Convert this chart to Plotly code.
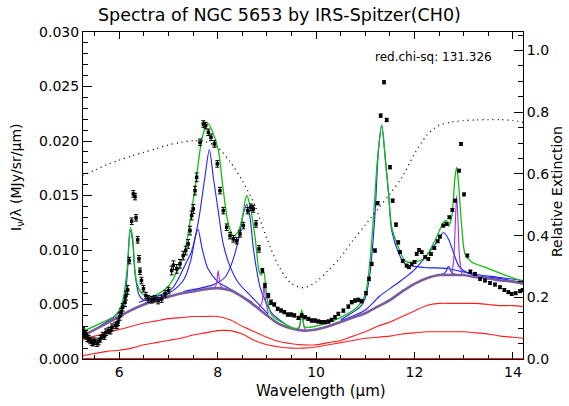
import plotly.graph_objects as go

# ---------------- observed spectrum ----------------
wave = [5.262, 5.276, 5.30, 5.323, 5.35, 5.378, 5.41, 5.445, 5.47, 5.499,
        5.547, 5.58, 5.615, 5.662, 5.70, 5.730, 5.784, 5.82, 5.852, 5.920,
        5.95, 5.974, 6.008, 6.041, 6.069, 6.116, 6.136, 6.17, 6.203, 6.25,
        6.285, 6.32, 6.34, 6.373, 6.40, 6.42, 6.45, 6.49, 6.54, 6.59,
        6.66, 6.72, 6.79, 6.86, 6.93, 7.0, 7.065, 7.1, 7.167, 7.234,
        7.30, 7.35, 7.40, 7.437, 7.47, 7.504, 7.538, 7.572, 7.64, 7.708,
        7.755, 7.81, 7.863, 7.931, 7.992, 8.046, 8.114, 8.182, 8.25, 8.317,
        8.385, 8.453, 8.521, 8.609, 8.676, 8.724, 8.778, 8.839, 8.907, 8.96,
        9.029, 9.083, 9.15, 9.218, 9.286, 9.354, 9.422, 9.49, 9.557, 9.64,
        9.707, 9.774, 9.842, 9.91, 9.978, 10.045, 10.113, 10.18, 10.25, 10.316,
        10.384, 10.452, 10.554, 10.655, 10.723, 10.79, 10.858, 10.926, 11.014, 11.075,
        11.13, 11.197, 11.251, 11.312, 11.38, 11.434, 11.502, 11.556, 11.624, 11.67,
        11.705, 11.76, 11.84, 11.888, 11.943, 12.0, 12.044, 12.092, 12.146, 12.214,
        12.281, 12.335, 12.403, 12.471, 12.518, 12.586, 12.654, 12.708, 12.769, 12.823,
        12.905, 12.945, 13.006, 13.074, 13.135, 13.23, 13.332, 13.433, 13.535, 13.636,
        13.738, 13.826, 13.907, 13.975, 14.056, 14.144, 14.2]
flux = [0.0026, 0.00246, 0.0022, 0.00231, 0.0019, 0.00185, 0.0017, 0.00154, 0.0015, 0.00163,
        0.00145, 0.0016, 0.00185, 0.00215, 0.0021, 0.00246, 0.00261, 0.0026, 0.00292, 0.00307,
        0.0031, 0.00338, 0.0039, 0.00429, 0.00475, 0.00521, 0.00582, 0.00634, 0.00903, 0.01264,
        0.01515, 0.0149, 0.01295, 0.01093, 0.00919, 0.00805, 0.0072, 0.00644, 0.00582, 0.00552,
        0.00543, 0.00552, 0.00536, 0.0055, 0.00598, 0.00628, 0.00812, 0.0086, 0.00827, 0.00873,
        0.00949, 0.00995, 0.01056, 0.01178, 0.01316, 0.01377, 0.01545, 0.01667, 0.01988, 0.02156,
        0.02141, 0.0208, 0.02034, 0.01973, 0.0179, 0.01545, 0.01361, 0.01209, 0.01132, 0.01102,
        0.01086, 0.01148, 0.01224, 0.01361, 0.01392, 0.01377, 0.01239, 0.0101, 0.00811, 0.00674,
        0.00582, 0.00521, 0.0050, 0.0046, 0.00445, 0.0043, 0.00408, 0.00408, 0.0040, 0.00377,
        0.00399, 0.00383, 0.00368, 0.00353, 0.00353, 0.00344, 0.00338, 0.00338, 0.00344, 0.00359,
        0.00383, 0.00414, 0.00444, 0.00481, 0.00521, 0.00536, 0.00543, 0.0053, 0.00604, 0.00735,
        0.00872, 0.00995, 0.01429, 0.02233, 0.02539, 0.02193, 0.01759, 0.01453, 0.01233, 0.0107,
        0.0098, 0.0090, 0.00857, 0.00842, 0.00872, 0.0089, 0.00964, 0.01001, 0.0098, 0.00934,
        0.00918, 0.00964, 0.01019, 0.0108, 0.01123, 0.01224, 0.01239, 0.0130, 0.01368, 0.01453,
        0.01728, 0.01973, 0.0151, 0.00949, 0.00802, 0.00781, 0.00735, 0.0072, 0.00698, 0.00683,
        0.00658, 0.00634, 0.00613, 0.00597, 0.00603, 0.00622, 0.00634]
flux_err = [0.0003, 0.0003, 0.0003, 0.0003, 0.0003, 0.0003, 0.0003, 0.0003, 0.0003, 0.0003,
            0.0003, 0.0003, 0.0003, 0.0003, 0.0003, 0.0003, 0.0003, 0.0003, 0.0003, 0.0003,
            0.0003, 0.0003, 0.00035, 0.00035, 0.00035, 0.0004, 0.0004, 0.0004, 0.0003, 0.0003,
            0.0003, 0.0003, 0.0003, 0.0003, 0.0003, 0.0003, 0.0003, 0.0003, 0.0003, 0.0003,
            0.0003, 0.0003, 0.0003, 0.0003, 0.0003, 0.0003, 0.0004, 0.0004, 0.0004, 0.0004,
            0.0004, 0.0004, 0.0004, 0.0004, 0.0004, 0.0004, 0.0004, 0.0004, 0.0003, 0.0003,
            0.0003, 0.0003, 0.0003, 0.0003, 0.0003, 0.0003, 0.0003, 0.0003, 0.0003, 0.0003,
            0.0003, 0.0003, 0.0003, 0.0003, 0.0003, 0.0003, 0.0003, 0.0003, 0.0002, 0.0002,
            0.0002, 0.0002, 0.00015, 0.00015, 0.00015, 0.00015, 0.00015, 0.00015, 0.00015, 0.00015,
            0.00015, 0.00015, 0.00015, 0.00015, 0.00015, 0.00015, 0.00015, 0.00015, 0.00015, 0.00015,
            0.00015, 0.00015, 0.00015, 0.00015, 0.00015, 0.00015, 0.00015, 0.00015, 0.00015, 0.00015,
            0.00015, 0.00015, 0.00015, 0.00015, 0.00015, 0.00015, 0.00015, 0.00015, 0.00015, 0.00015,
            0.00013, 0.00013, 0.00013, 0.00013, 0.00013, 0.00013, 0.00013, 0.00013, 0.00013, 0.00013,
            0.00013, 0.00013, 0.00013, 0.00013, 0.00013, 0.00013, 0.00013, 0.00013, 0.00013, 0.00013,
            0.00013, 0.00013, 0.00013, 0.00013, 0.00013, 0.00013, 0.00013, 0.00013, 0.00013, 0.00013,
            0.00013, 0.00013, 0.00013, 0.00013, 0.00013, 0.00013, 0.00013]

# ---------------- continuum components (common grid) ----------------
grid = [5.25, 5.5, 5.75, 6.0, 6.25, 6.5, 6.75, 7.0, 7.25, 7.5, 7.75, 8.0, 8.25,
        8.5, 8.75, 9.0, 9.25, 9.5, 9.75, 10.0, 10.25, 10.5, 10.75, 11.0, 11.25,
        11.5, 11.75, 12.0, 12.25, 12.5, 12.75, 13.0, 13.25, 13.5, 13.75, 14.0, 14.22]
cont_total = [0.0021, 0.0027, 0.0033, 0.0039, 0.0045, 0.0050, 0.0054, 0.0057, 0.0060,
              0.0062, 0.0064, 0.0065, 0.0063, 0.0057, 0.0049, 0.0040, 0.0032, 0.0028,
              0.0026, 0.0027, 0.0030, 0.0034, 0.0038, 0.0042, 0.0048, 0.0054, 0.0062,
              0.0069, 0.0074, 0.0077, 0.0077, 0.0077, 0.0075, 0.0074, 0.0072, 0.0071, 0.0069]
cont_warm = [0.0017, 0.0021, 0.0024, 0.0027, 0.0030, 0.0033, 0.0035, 0.0037, 0.0038,
             0.0039, 0.0039, 0.0039, 0.0036, 0.0030, 0.0025, 0.0020, 0.0016, 0.0014,
             0.0013, 0.0013, 0.0015, 0.0017, 0.0021, 0.0025, 0.0030, 0.0034, 0.0039,
             0.0044, 0.0049, 0.0051, 0.0051, 0.0051, 0.0051, 0.0050, 0.0049, 0.0049, 0.0048]
cont_cool = [0.0003, 0.0005, 0.0007, 0.0008, 0.0010, 0.0013, 0.0015, 0.0017, 0.0019,
             0.0022, 0.0024, 0.0026, 0.0026, 0.0023, 0.0017, 0.0013, 0.0011, 0.0010,
             0.0010, 0.0011, 0.0013, 0.0015, 0.0017, 0.0019, 0.0020, 0.0021, 0.0023,
             0.0024, 0.0025, 0.0025, 0.0025, 0.0025, 0.0024, 0.0023, 0.0021, 0.0020, 0.0019]
cont_star = [0.0] * 37
extinction = [0.594, 0.612, 0.630, 0.645, 0.658, 0.670, 0.682, 0.694, 0.702, 0.708,
              0.705, 0.685, 0.640, 0.578, 0.500, 0.390, 0.298, 0.245, 0.231, 0.250,
              0.288, 0.330, 0.385, 0.435, 0.485, 0.535, 0.590, 0.665, 0.725, 0.758,
              0.768, 0.773, 0.775, 0.776, 0.776, 0.773, 0.767]

# ---------------- dust features (continuum + feature) ----------------
f62_wl = [5.6, 5.9, 6.05, 6.12, 6.17, 6.22, 6.27, 6.32, 6.4, 6.5, 6.7, 7.0]
f62_fx = [0.0030, 0.0039, 0.0046, 0.0058, 0.0083, 0.0118, 0.0108, 0.0078, 0.0059, 0.0054, 0.0055, 0.0058]
f76_wl = [6.5, 7.0, 7.3, 7.45, 7.55, 7.6, 7.68, 7.8, 8.0, 8.3, 8.7]
f76_fx = [0.0051, 0.0060, 0.0072, 0.0090, 0.0113, 0.0119, 0.0102, 0.0083, 0.0071, 0.0063, 0.0052]
f78_wl = [6.4, 6.9, 7.1, 7.335, 7.47, 7.61, 7.74, 7.83, 7.91, 8.01, 8.11, 8.25, 8.42, 8.69, 9.03]
f78_fx = [0.0052, 0.0060, 0.0066, 0.0086, 0.0099, 0.0127, 0.0167, 0.0192, 0.0167, 0.0136,
          0.0106, 0.0085, 0.0070, 0.0057, 0.0041]
f86_wl = [7.3, 7.9, 8.15, 8.28, 8.42, 8.52, 8.59, 8.656, 8.72, 8.79, 8.86, 8.96, 9.1, 9.37]
f86_fx = [0.0062, 0.0068, 0.0075, 0.0087, 0.0109, 0.0133, 0.0142, 0.0130, 0.0103, 0.0082,
          0.0066, 0.0054, 0.0042, 0.0032]
f113_wl = [10.5, 10.9, 11.0, 11.1, 11.2, 11.265, 11.333, 11.41, 11.475, 11.536, 11.67,
           11.81, 12.2, 12.65, 13.2, 13.7, 14.21]
f113_fx = [0.0036, 0.0048, 0.0056, 0.0080, 0.0135, 0.0190, 0.0214, 0.0182, 0.0150, 0.0118,
           0.0098, 0.0087, 0.0084, 0.0083, 0.0078, 0.0075, 0.0072]
f126_wl = [10.5, 11.0, 11.3, 11.64, 11.98, 12.25, 12.45, 12.59, 12.69, 12.79, 12.92, 13.2, 13.7, 14.22]
f126_fx = [0.0035, 0.0045, 0.0058, 0.0069, 0.0081, 0.0095, 0.0107, 0.0116, 0.0110, 0.0098,
           0.0084, 0.0077, 0.0074, 0.0070]
f127_wl = [12.5, 12.62, 12.69, 12.76, 12.9]
f127_fx = [0.0077, 0.0079, 0.0085, 0.0079, 0.0077]

# ---------------- emission lines (continuum + line) ----------------
l80_wl = [7.92, 7.97, 8.01, 8.05, 8.10]
l80_fx = [0.0065, 0.0068, 0.0081, 0.0068, 0.0065]
l90_wl = [8.84, 8.90, 8.94, 8.98, 9.03]
l90_fx = [0.0047, 0.0052, 0.0066, 0.0052, 0.0042]
l97_wl = [9.62, 9.67, 9.71, 9.75, 9.80]
l97_fx = [0.0026, 0.0030, 0.0044, 0.0030, 0.0026]
l128_wl = [12.76, 12.80, 12.83, 12.857, 12.885, 12.915, 12.96]
l128_fx = [0.0078, 0.0093, 0.0125, 0.0150, 0.0125, 0.0093, 0.0078]

# ---------------- total model ----------------
model_wl = [5.25, 5.58, 5.92, 6.055, 6.157, 6.224, 6.27, 6.313, 6.36, 6.46, 6.6, 6.8, 7.0,
            7.21, 7.34, 7.47, 7.57, 7.67, 7.755, 7.81, 7.88, 8.01, 8.114, 8.216, 8.317,
            8.42, 8.5, 8.588, 8.656, 8.758, 8.839, 8.88, 8.93, 9.0, 9.1, 9.37, 9.57, 9.65,
            9.707, 9.76, 9.81, 10.15, 10.49, 10.82, 10.99, 11.095, 11.197, 11.245, 11.333,
            11.41, 11.475, 11.536, 11.67, 11.81, 12.01, 12.21, 12.42, 12.586, 12.654,
            12.688, 12.755, 12.823, 12.857, 12.89, 12.96, 13.03, 13.16, 13.5, 13.84, 14.21]
model_fx = [0.0025, 0.0032, 0.0040, 0.0051, 0.0081, 0.0121, 0.0112, 0.0084, 0.0069, 0.0060,
            0.0057, 0.0060, 0.0067, 0.0084, 0.0101, 0.0136, 0.0167, 0.0200, 0.0213, 0.0216,
            0.0210, 0.0192, 0.01545, 0.0124, 0.0113, 0.0117, 0.0130, 0.0150, 0.0141, 0.0112,
            0.0081, 0.0077, 0.0081, 0.0057, 0.0040, 0.0032, 0.0028, 0.0029, 0.0045, 0.0030,
            0.0029, 0.0032, 0.0038, 0.0047, 0.0058, 0.0090, 0.0151, 0.0182, 0.0215, 0.0182,
            0.0151, 0.0121, 0.0103, 0.0090, 0.0089, 0.0093, 0.0109, 0.0125, 0.0127, 0.0122,
            0.0130, 0.0167, 0.0176, 0.0164, 0.0121, 0.0096, 0.0089, 0.0083, 0.0077, 0.0071]

x_ticks = [6, 8, 10, 12, 14]
chi_text = "red.chi-sq: 131.326"

BLUE = "#1f1fff"
VIOLET = "#a030e8"
RED = "#ff2020"
GREEN = "#10c010"
PURPLE = "#7a5c9e"

fig = go.Figure()

def line(x, y, color, width=1.0, dash=None, yaxis="y", shape="spline"):
    fig.add_trace(go.Scatter(x=x, y=y, mode="lines", yaxis=yaxis,
                             line=dict(color=color, width=width, dash=dash, shape=shape,
                                       smoothing=0.8 if shape == "spline" else None),
                             hoverinfo="skip", showlegend=False))

line(grid, cont_star, RED, 2.2, shape="linear")
line(grid, cont_cool, RED, 1.1)
line(grid, cont_warm, RED, 1.1)
for wl, fx in [(f62_wl, f62_fx), (f76_wl, f76_fx), (f78_wl, f78_fx), (f86_wl, f86_fx),
               (f113_wl, f113_fx), (f126_wl, f126_fx), (f127_wl, f127_fx)]:
    line(wl, fx, BLUE, 1.1)
line(grid, cont_total, PURPLE, 2.6)
for wl, fx in [(l80_wl, l80_fx), (l90_wl, l90_fx), (l97_wl, l97_fx), (l128_wl, l128_fx)]:
    line(wl, fx, VIOLET, 1.1)
line(model_wl, model_fx, GREEN, 1.3)
line(grid, extinction, "black", 1.3, dash="1px,4px", yaxis="y2")

fig.add_trace(go.Scatter(
    x=wave, y=flux, mode="markers",
    marker=dict(symbol="square", size=3.5, color="black"),
    error_y=dict(type="data", array=flux_err, color="black", thickness=1, width=2),
    showlegend=False, hoverinfo="skip"))

font = "DejaVu Sans, Verdana, sans-serif"
L, R, T, B = 83, 46, 32, 47
W, H = 569, 406
pw, ph = W - L - R, H - T - B

def px(xp):
    return (xp - L) / pw

def py(yp):
    return (H - B - yp) / ph

fig.update_layout(
    width=W, height=H, margin=dict(l=L, r=R, t=T, b=B),
    paper_bgcolor="white", plot_bgcolor="white",
    font=dict(family=font, color="black", size=14),
    showlegend=False,
    xaxis=dict(range=[5.262, 14.205], tickmode="array", tickvals=x_ticks,
               ticktext=[str(v) for v in x_ticks],
               ticks="inside", ticklen=7, tickwidth=1, tickcolor="black",
               minor=dict(dtick=0.5, tick0=5.0, ticks="inside", ticklen=4, tickcolor="black"),
               showline=True, linecolor="black", linewidth=1, mirror="ticks",
               showgrid=False, zeroline=False, tickfont=dict(size=14)),
    yaxis=dict(range=[0, 0.030], tickmode="linear", tick0=0, dtick=0.005, tickformat=".3f",
               ticks="inside", ticklen=9, tickwidth=1, tickcolor="black",
               minor=dict(dtick=0.001, ticks="inside", ticklen=5, tickcolor="black"),
               showline=True, linecolor="black", linewidth=1, mirror=False,
               showgrid=False, zeroline=False, tickfont=dict(size=14)),
    yaxis2=dict(range=[0, 1.06], overlaying="y", side="right", tickmode="linear",
                tick0=0, dtick=0.2, tickformat=".1f",
                ticks="inside", ticklen=9, tickwidth=1, tickcolor="black",
                minor=dict(dtick=0.05, ticks="inside", ticklen=5, tickcolor="black"),
                showline=True, linecolor="black", linewidth=1,
                showgrid=False, zeroline=False, tickfont=dict(size=14)),
    annotations=[
        dict(text="Spectra of NGC 5653 by IRS-Spitzer(CH0)", xref="paper", yref="paper",
             x=px(279), y=py(15), xanchor="center", yanchor="middle",
             showarrow=False, font=dict(size=17.5)),
        dict(text=chi_text, xref="paper", yref="paper", x=px(433), y=py(57),
             xanchor="center", yanchor="middle", showarrow=False, font=dict(size=12)),
        dict(text="Wavelength (μm)", xref="paper", yref="paper", x=px(321), y=py(391),
             xanchor="center", yanchor="middle", showarrow=False, font=dict(size=15)),
        dict(text="I<sub>ν</sub>/λ (MJy/sr/μm)", xref="paper", yref="paper",
             x=px(17), y=py(177), xanchor="center", yanchor="middle", textangle=-90,
             showarrow=False, font=dict(size=14)),
        dict(text="Relative Extinction", xref="paper", yref="paper",
             x=px(557), y=py(192), xanchor="center", yanchor="middle", textangle=-90,
             showarrow=False, font=dict(size=14)),
    ],
)

fig.write_html("out.html", config={"displayModeBar": False},
               post_script="document.body.style.margin='0px';")
